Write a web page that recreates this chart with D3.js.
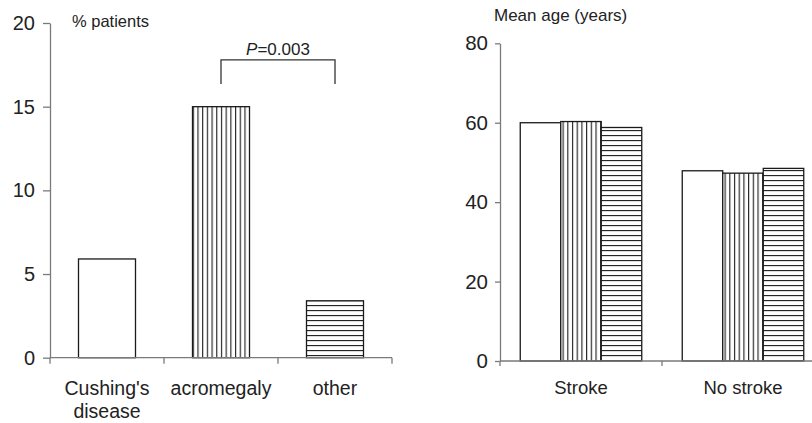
<!DOCTYPE html>
<html><head><meta charset="utf-8">
<script src="https://cdn.jsdelivr.net/npm/d3@7/dist/d3.min.js"></script>
<style>
html,body{margin:0;padding:0;background:#fff;}
svg{display:block;font-family:"Liberation Sans",Arial,Helvetica,sans-serif;}
</style></head>
<body>
<svg id="c" width="812" height="423"></svg>
<script>
// ---- data ----
const leftCategories = ["Cushing's disease", "acromegaly", "other"];
const leftValues = [5.9, 15.0, 3.4];
const leftTicks = [0, 5, 10, 15, 20];
const leftTitle = "% patients";
const pLabel = "0.003";

const rightGroups = ["Stroke", "No stroke"];
const rightSeries = ["Cushing's disease", "acromegaly", "other"];
const rightStroke = [60.0, 60.3, 58.8];
const rightNoStroke = [47.9, 47.3, 48.5];
const rightTicks = [0, 20, 40, 60, 80];
const rightTitle = "Mean age (years)";

const svg = d3.select("#c");
const axisColor = "#7a7a7a", barColor = "#1a1a1a", textColor = "#222";

// patterns
const defs = svg.append("defs");
const pv = defs.append("pattern").attr("id","vert").attr("patternUnits","userSpaceOnUse")
  .attr("width",4.7).attr("height",10);
pv.append("rect").attr("width",4.7).attr("height",10).attr("fill","#fff");
pv.append("line").attr("x1",0.6).attr("x2",0.6).attr("y1",0).attr("y2",10)
  .attr("stroke",barColor).attr("stroke-width",1.1);
const ph = defs.append("pattern").attr("id","horiz").attr("patternUnits","userSpaceOnUse")
  .attr("width",10).attr("height",5);
ph.append("rect").attr("width",10).attr("height",5).attr("fill","#fff");
ph.append("line").attr("y1",0.6).attr("y2",0.6).attr("x1",0).attr("x2",10)
  .attr("stroke",barColor).attr("stroke-width",1.1);
const fills = ["#fff","url(#vert)","url(#horiz)"];

function styleAxis(g){
  g.selectAll("path,line").attr("stroke",axisColor).attr("stroke-width",1.3);
  g.selectAll("text").attr("fill",textColor).attr("font-family",null);
}

// ---------- LEFT ----------
const xL = d3.scaleBand().domain(leftCategories).range([50,392]).paddingInner(0.5).paddingOuter(0.25);
const yL = d3.scaleLinear().domain([0,20]).range([357.7,23]);

const gyL = svg.append("g").attr("transform","translate(50,0)")
  .call(d3.axisLeft(yL).tickValues(leftTicks).tickSize(7).tickPadding(8).tickSizeOuter(0));
styleAxis(gyL); gyL.selectAll("text").attr("font-size",20);
gyL.attr("font-size",20);

svg.append("g").selectAll("rect").data(leftCategories).join("rect")
  .attr("x",d=>xL(d)).attr("width",xL.bandwidth())
  .attr("y",(d,i)=>yL(leftValues[i])).attr("height",(d,i)=>yL(0)-yL(leftValues[i]))
  .attr("fill",(d,i)=>fills[i]).attr("stroke",barColor).attr("stroke-width",1.3);

// x axis line + boundary ticks
svg.append("line").attr("x1",xL.range()[0]).attr("x2",xL.range()[1]).attr("y1",yL(0)).attr("y2",yL(0))
  .attr("stroke",axisColor).attr("stroke-width",1.3);
svg.append("g").selectAll("line").data(d3.range(leftCategories.length+1)).join("line")
  .attr("x1",i=>xL.range()[0]+i*xL.step()).attr("x2",i=>xL.range()[0]+i*xL.step())
  .attr("y1",yL(0)).attr("y2",yL(0)+6).attr("stroke",axisColor).attr("stroke-width",1.3);

svg.append("g").selectAll("text").data(leftCategories).join("text")
  .attr("x",d=>xL(d)+xL.bandwidth()/2).attr("y",395).attr("text-anchor","middle")
  .attr("font-size",19.5).attr("fill",textColor)
  .each(function(d){
    const words = d === "Cushing's disease" ? ["Cushing's","disease"] : [d];
    const t = d3.select(this);
    words.forEach((w,k)=>t.append("tspan").attr("x",xL(d)+xL.bandwidth()/2).attr("dy",k?23:0).text(w));
  });

svg.append("text").attr("x",72).attr("y",27).attr("font-size",16.5).attr("fill",textColor).text(leftTitle);

// significance bracket
const bx1 = xL("acromegaly")+xL.bandwidth()/2, bx2 = xL("other")+xL.bandwidth()/2;
const byTop = yL(17.8), byBot = yL(16.35);
svg.append("path").attr("d",`M${bx1},${byBot}V${byTop}H${bx2}V${byBot}`)
  .attr("fill","none").attr("stroke","#333").attr("stroke-width",1.3);
const pt = svg.append("text").attr("x",(bx1+bx2)/2).attr("y",byTop-5).attr("text-anchor","middle")
  .attr("font-size",17).attr("fill",textColor);
pt.append("tspan").attr("font-style","italic").text("P");
pt.append("tspan").text("=" + pLabel);

// ---------- RIGHT ----------
const x0 = d3.scaleBand().domain(rightGroups).range([500,824]).paddingInner(0.25).paddingOuter(0.125);
const x1 = d3.scaleBand().domain(rightSeries).range([0,x0.bandwidth()]);
const yR = d3.scaleLinear().domain([0,80]).range([361,43.3]);
const rightData = [rightStroke, rightNoStroke];

const gyR = svg.append("g").attr("transform","translate(500,0)")
  .call(d3.axisLeft(yR).tickValues(rightTicks).tickSize(5).tickPadding(7).tickSizeOuter(0));
styleAxis(gyR); gyR.attr("font-size",20.5); gyR.selectAll("text").attr("font-size",20.5);

const grp = svg.append("g").selectAll("g").data(rightGroups).join("g")
  .attr("transform",d=>`translate(${x0(d)},0)`);
grp.selectAll("rect").data((d,gi)=>rightSeries.map((s,si)=>({s,si,v:rightData[gi][si]}))).join("rect")
  .attr("x",d=>x1(d.s)).attr("width",x1.bandwidth())
  .attr("y",d=>yR(d.v)).attr("height",d=>yR(0)-yR(d.v))
  .attr("fill",d=>fills[d.si]).attr("stroke",barColor).attr("stroke-width",1.3);

svg.append("line").attr("x1",x0.range()[0]).attr("x2",x0.range()[1]).attr("y1",yR(0)).attr("y2",yR(0))
  .attr("stroke",axisColor).attr("stroke-width",1.3);
svg.append("g").selectAll("line").data(d3.range(rightGroups.length+1)).join("line")
  .attr("x1",i=>x0.range()[0]+i*x0.step()).attr("x2",i=>x0.range()[0]+i*x0.step())
  .attr("y1",yR(0)).attr("y2",yR(0)+5).attr("stroke",axisColor).attr("stroke-width",1.3);

svg.append("g").selectAll("text").data(rightGroups).join("text")
  .attr("x",d=>x0(d)+x0.bandwidth()/2).attr("y",394).attr("text-anchor","middle")
  .attr("font-size",18.5).attr("fill",textColor).text(d=>d);

svg.append("text").attr("x",494).attr("y",21).attr("font-size",17).attr("fill",textColor).text(rightTitle);
</script>
</body></html>
